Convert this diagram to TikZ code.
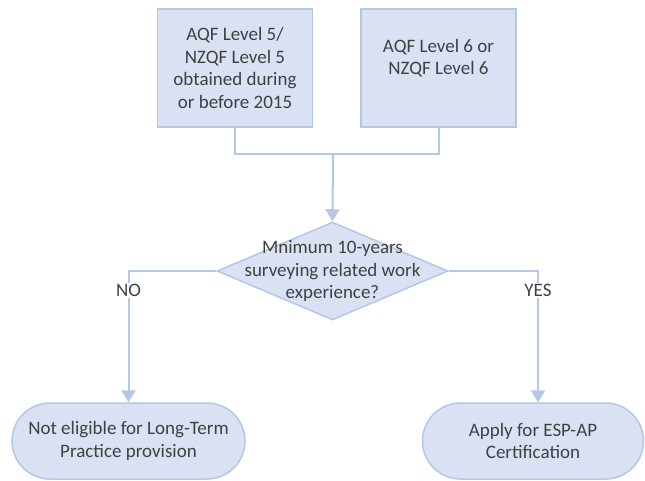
\documentclass[tikz,border=0pt]{standalone}
\usepackage{fontspec}
\setmainfont{Carlito}
\usetikzlibrary{arrows.meta,shapes.geometric}
\definecolor{boxfill}{RGB}{218,225,243}
\definecolor{boxline}{RGB}{180,199,231}
\definecolor{txt}{RGB}{64,64,64}

\begin{document}
\begin{tikzpicture}[x=1pt,y=-1pt,
  font=\fontsize{19}{22.5}\selectfont, text=txt,
  qual/.style={draw=boxline, fill=boxfill, line width=1.5pt,
    minimum width=155pt, minimum height=118pt, align=center, inner sep=0pt},
  question/.style={shape=diamond, draw=boxline, fill=boxfill, line width=1.5pt,
    minimum width=231pt, minimum height=98pt, inner sep=0pt},
  outcome/.style={draw=boxline, fill=boxfill, line width=1.5pt,
    rounded corners=38pt, minimum height=76pt, align=center},
  link/.style={draw=boxline, line width=2pt},
  flow/.style={link, -{Triangle[width=14pt,length=12pt]}},
  answer/.style={fill=white, inner sep=1pt}]

  \useasboundingbox (0,0) rectangle (645,481);

  \node[qual] (lvl5) at (235,68) {AQF Level 5/\\NZQF Level 5\\obtained during\\or before 2015};
  \node[qual] (lvl6) at (438.5,68) {AQF Level 6 or\\NZQF Level 6\\\mbox{}};
  \node[question, label={[align=center]center:Mnimum 10-years\\surveying related work\\experience?}] (exp) at (332.5,271) {};
  \node[outcome, minimum width=233pt] (noend) at (128.5,441) {Not eligible for Long-Term\\Practice provision};
  \node[outcome, minimum width=221pt] (yesend) at (533,441) {Apply for ESP-AP\\Certification};

  % join the two qualifications
  \coordinate (join) at (333,154);
  \draw[link] (lvl5.south) |- (join) -| (lvl6.south);
  \draw[flow] (join) -- (exp.north);

  % the two answers
  \draw[flow] (exp.west) -| node[answer, pos=0.575] {NO} (noend.north);
  \draw[flow] (exp.east) -| node[answer, pos=0.575] {YES} ([xshift=5pt]yesend.north);
\end{tikzpicture}
\end{document}
